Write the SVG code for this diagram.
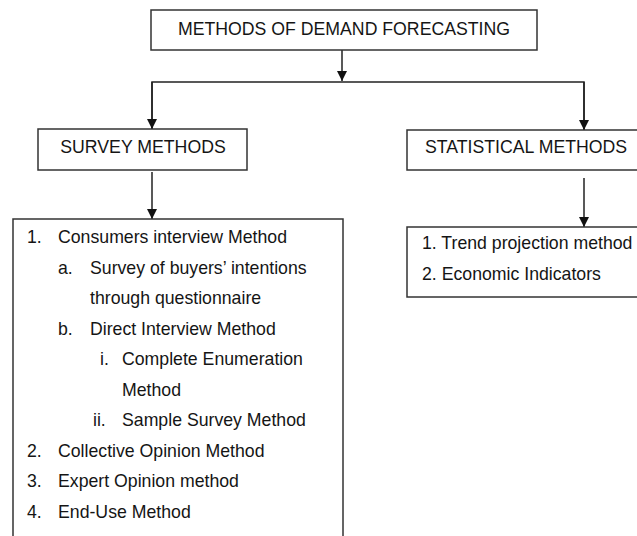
<svg xmlns="http://www.w3.org/2000/svg" width="637" height="536" viewBox="0 0 637 536">
<style>
.box{fill:#fff;stroke:#333;stroke-width:1.5}
.t{font-family:"Liberation Sans",Arial,sans-serif;font-size:17.7px;fill:#151515}
.c{text-anchor:middle}
.ln{fill:none;stroke:#222;stroke-width:1.5}
</style>
<defs>
<marker id="ah" markerWidth="10" markerHeight="10" refX="10" refY="5" orient="auto" markerUnits="userSpaceOnUse">
<path d="M0,0 L10,5 L0,10 Z" fill="#111"/>
</marker>
</defs>
<rect width="637" height="536" fill="#fff"/>
<g id="connectors">
<line class="ln" x1="342" y1="50" x2="342" y2="81" marker-end="url(#ah)"/>
<polyline class="ln" points="152,129 152,82 584,82 584,130" />
<line class="ln" x1="152" y1="82" x2="152" y2="129" marker-end="url(#ah)"/>
<line class="ln" x1="584" y1="82" x2="584" y2="130" marker-end="url(#ah)"/>
<line class="ln" x1="152" y1="172" x2="152" y2="219" marker-end="url(#ah)"/>
<line class="ln" x1="584" y1="178" x2="584" y2="227" marker-end="url(#ah)"/>
</g>
<g id="root">
<rect class="box" x="151" y="10" width="386" height="40"/>
<text class="t c" x="344" y="35">METHODS OF DEMAND FORECASTING</text>
</g>
<g id="survey">
<rect class="box" x="38" y="129" width="209" height="41"/>
<text class="t c" x="143" y="153">SURVEY METHODS</text>
</g>
<g id="statistical">
<rect class="box" x="407" y="130" width="240" height="40"/>
<text class="t" x="425" y="153">STATISTICAL METHODS</text>
</g>
<g id="survey-list">
<rect class="box" x="13" y="219" width="330" height="330"/>
<text class="t" x="27" y="243">1.</text><text class="t" x="58" y="243">Consumers interview Method</text>
<text class="t" x="58" y="273.5">a.</text><text class="t" x="90" y="273.5">Survey of buyers’ intentions</text>
<text class="t" x="90" y="304">through questionnaire</text>
<text class="t" x="58" y="334.5">b.</text><text class="t" x="90" y="334.5">Direct Interview Method</text>
<text class="t" x="100" y="365">i.</text><text class="t" x="122" y="365">Complete Enumeration</text>
<text class="t" x="122" y="395.5">Method</text>
<text class="t" x="93" y="426">ii.</text><text class="t" x="122" y="426">Sample Survey Method</text>
<text class="t" x="27" y="456.5">2.</text><text class="t" x="58" y="456.5">Collective Opinion Method</text>
<text class="t" x="27" y="487">3.</text><text class="t" x="58" y="487">Expert Opinion method</text>
<text class="t" x="27" y="517.5">4.</text><text class="t" x="58" y="517.5">End-Use Method</text>
</g>
<g id="statistical-list">
<rect class="box" x="407" y="227" width="240" height="70"/>
<text class="t" x="422" y="249">1. Trend projection method</text>
<text class="t" x="422" y="280">2. Economic Indicators</text>
</g>
</svg>
